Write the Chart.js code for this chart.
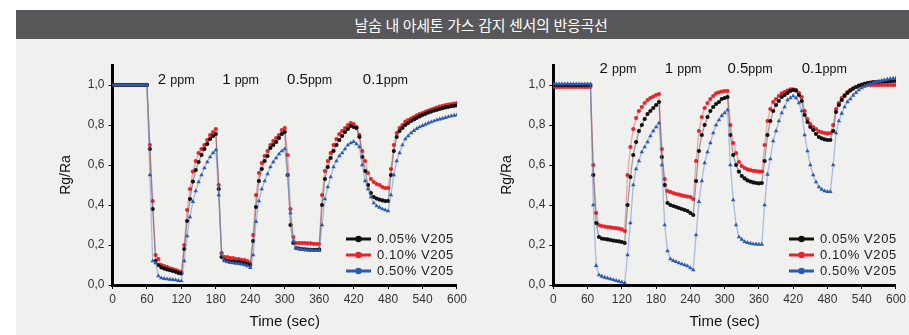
<!doctype html>
<html lang="ko">
<head>
<meta charset="utf-8">
<title>날숨 내 아세톤 가스 감지 센서의 반응곡선</title>
<script src="https://cdn.jsdelivr.net/npm/chart.js"></script>
<style>
  body { margin: 0; background: #fff; width: 909px; height: 335px; overflow: hidden; position: relative; }
  #title {
    position: absolute; left: 16px; top: 10px; width: 893px; height: 29px;
    box-sizing: border-box; padding-left: 37px;
    background: #58585a; color: #fff; text-align: center;
    font: 15px "Noto Sans CJK KR", sans-serif; line-height: 29px; letter-spacing: -0.3px;
  }
  #panel { position: absolute; left: 16px; top: 39px; width: 893px; height: 296px; background: #f0f0ee; }
  canvas { position: absolute; top: 40px; }
  #leftChart { left: 16px; }
  #rightChart { left: 470px; }
</style>
</head>
<body>
<div id="title">날숨 내 아세톤 가스 감지 센서의 반응곡선</div>
<div id="panel"></div>
<canvas id="leftChart" width="454" height="295"></canvas>
<canvas id="rightChart" width="439" height="295"></canvas>

<script>
// time base, sec (every 5 s, 0..600)
const times = Array.from({ length: 121 }, (_, i) => i * 5);
const seriesNames = ['0.05% V205', '0.10% V205', '0.50% V205'];
const ppmNumbers = ['2 ', '1 ', '0.5', '0.1'];
const xTicks = [0, 60, 120, 180, 240, 300, 360, 420, 480, 540, 600];

// left panel
const leftBlack = [
  1.0, 1.0, 1.0, 1.0, 1.0, 1.0, 1.0, 1.0, 1.0, 1.0, 1.0, 1.0,
  1.0, 0.68, 0.38, 0.12, 0.10, 0.088, 0.082, 0.078, 0.074, 0.07, 0.066, 0.06,
  0.057, 0.18, 0.32, 0.43, 0.517, 0.575, 0.615, 0.65, 0.68, 0.705, 0.73, 0.745,
  0.755, 0.48, 0.14, 0.125, 0.12, 0.118, 0.117, 0.115, 0.114, 0.112, 0.11, 0.105,
  0.10, 0.22, 0.39, 0.52, 0.58, 0.62, 0.645, 0.685, 0.70, 0.715, 0.735, 0.755,
  0.765, 0.55, 0.30, 0.21, 0.185, 0.182, 0.18, 0.178, 0.177, 0.176, 0.176, 0.176,
  0.178, 0.40, 0.53, 0.59, 0.635, 0.67, 0.70, 0.725, 0.745, 0.765, 0.78, 0.795,
  0.79, 0.785, 0.74, 0.64, 0.57, 0.50, 0.46, 0.44, 0.432, 0.427, 0.423, 0.42,
  0.42, 0.55, 0.67, 0.74, 0.77, 0.785, 0.80, 0.81, 0.82, 0.828, 0.836, 0.843,
  0.85, 0.856, 0.862, 0.867, 0.872, 0.876, 0.88, 0.884, 0.888, 0.891, 0.894, 0.896,
  0.898
];
const leftRed = [
  1.0, 1.0, 1.0, 1.0, 1.0, 1.0, 1.0, 1.0, 1.0, 1.0, 1.0, 1.0,
  1.0, 0.70, 0.42, 0.15, 0.13, 0.10, 0.095, 0.09, 0.083, 0.08, 0.075, 0.07,
  0.065, 0.20, 0.375, 0.48, 0.567, 0.62, 0.66, 0.68, 0.70, 0.725, 0.75, 0.765,
  0.78, 0.50, 0.16, 0.14, 0.14, 0.135, 0.135, 0.13, 0.13, 0.125, 0.125, 0.12,
  0.11, 0.25, 0.45, 0.56, 0.61, 0.645, 0.67, 0.70, 0.72, 0.735, 0.75, 0.775,
  0.785, 0.65, 0.38, 0.24, 0.21, 0.21, 0.21, 0.21, 0.208, 0.208, 0.206, 0.205,
  0.205, 0.45, 0.57, 0.62, 0.66, 0.70, 0.73, 0.755, 0.77, 0.785, 0.80, 0.81,
  0.805, 0.79, 0.75, 0.67, 0.62, 0.56, 0.53, 0.515, 0.505, 0.50, 0.49, 0.485,
  0.485, 0.58, 0.70, 0.76, 0.785, 0.80, 0.817, 0.825, 0.832, 0.84, 0.848, 0.855,
  0.86, 0.866, 0.872, 0.877, 0.882, 0.887, 0.892, 0.896, 0.899, 0.902, 0.905, 0.907,
  0.909
];
const leftBlue = [
  1.0, 1.0, 1.0, 1.0, 1.0, 1.0, 1.0, 1.0, 1.0, 1.0, 1.0, 1.0,
  1.0, 0.55, 0.12, 0.11, 0.045, 0.035, 0.032, 0.03, 0.028, 0.027, 0.025, 0.022,
  0.02, 0.12, 0.245, 0.34, 0.417, 0.47, 0.515, 0.55, 0.585, 0.615, 0.64, 0.66,
  0.675, 0.45, 0.16, 0.12, 0.115, 0.112, 0.11, 0.108, 0.106, 0.104, 0.10, 0.095,
  0.087, 0.15, 0.317, 0.42, 0.48, 0.52, 0.555, 0.59, 0.615, 0.635, 0.655, 0.67,
  0.68, 0.55, 0.36, 0.22, 0.185, 0.18, 0.178, 0.176, 0.175, 0.174, 0.173, 0.172,
  0.172, 0.30, 0.43, 0.49, 0.54, 0.59, 0.62, 0.645, 0.66, 0.68, 0.70, 0.71,
  0.717, 0.705, 0.69, 0.60, 0.52, 0.48, 0.44, 0.41, 0.395, 0.388, 0.38, 0.375,
  0.37, 0.45, 0.55, 0.62, 0.66, 0.70, 0.73, 0.745, 0.76, 0.772, 0.782, 0.79,
  0.797, 0.803, 0.809, 0.815, 0.82, 0.825, 0.829, 0.833, 0.837, 0.841, 0.845, 0.848,
  0.85
];

// right panel
const rightBlack = [
  1.0, 1.0, 1.0, 1.0, 1.0, 1.0, 1.0, 1.0, 1.0, 1.0, 1.0, 1.0,
  1.0, 1.0, 0.55, 0.31, 0.24, 0.232, 0.23, 0.228, 0.225, 0.222, 0.22, 0.218,
  0.215, 0.21, 0.40, 0.54, 0.65, 0.715, 0.77, 0.80, 0.83, 0.855, 0.87, 0.885,
  0.90, 0.915, 0.64, 0.50, 0.41, 0.40, 0.395, 0.39, 0.385, 0.38, 0.375, 0.37,
  0.36, 0.35, 0.52, 0.67, 0.75, 0.80, 0.84, 0.87, 0.89, 0.905, 0.915, 0.93,
  0.935, 0.94, 0.75, 0.65, 0.60, 0.567, 0.545, 0.533, 0.523, 0.517, 0.513, 0.51,
  0.508, 0.51, 0.62, 0.75, 0.82, 0.87, 0.90, 0.92, 0.94, 0.95, 0.96, 0.97,
  0.975, 0.972, 0.95, 0.92, 0.85, 0.815, 0.79, 0.775, 0.755, 0.74, 0.733, 0.728,
  0.725, 0.725, 0.77, 0.865, 0.90, 0.925, 0.945, 0.96, 0.972, 0.982, 0.99, 0.997,
  1.002, 1.006, 1.01, 1.012, 1.014, 1.015, 1.016, 1.017, 1.018, 1.018, 1.019, 1.02,
  1.02
];
const rightRed = [
  0.99, 0.99, 0.99, 0.99, 0.99, 0.99, 0.99, 0.99, 0.99, 0.99, 0.99, 0.99,
  0.99, 0.99, 0.60, 0.36, 0.30, 0.295, 0.292, 0.29, 0.288, 0.286, 0.284, 0.282,
  0.278, 0.27, 0.55, 0.69, 0.78, 0.835, 0.87, 0.89, 0.91, 0.925, 0.935, 0.942,
  0.95, 0.955, 0.68, 0.53, 0.47, 0.465, 0.46, 0.455, 0.452, 0.448, 0.445, 0.442,
  0.44, 0.43, 0.62, 0.77, 0.84, 0.885, 0.91, 0.93, 0.945, 0.958, 0.963, 0.967,
  0.97, 0.97, 0.80, 0.71, 0.66, 0.615, 0.595, 0.585, 0.578, 0.574, 0.571, 0.569,
  0.567, 0.567, 0.70, 0.82, 0.88, 0.915, 0.93, 0.945, 0.958, 0.965, 0.972, 0.978,
  0.978, 0.975, 0.96, 0.94, 0.87, 0.83, 0.805, 0.79, 0.78, 0.768, 0.763, 0.76,
  0.758, 0.76, 0.80, 0.88, 0.91, 0.935, 0.95, 0.965, 0.975, 0.983, 0.99, 0.995,
  0.998, 1.0, 1.0, 1.0, 1.0, 1.0, 1.0, 1.0, 1.0, 1.0, 1.0, 1.0,
  1.0
];
const rightBlue = [
  1.005, 1.005, 1.005, 1.005, 1.005, 1.005, 1.005, 1.005, 1.005, 1.005, 1.005, 1.005,
  1.005, 1.005, 0.40, 0.097, 0.05, 0.043, 0.038, 0.034, 0.03, 0.026, 0.022, 0.018,
  0.014, 0.01, 0.15, 0.31, 0.50, 0.58, 0.62, 0.665, 0.69, 0.715, 0.745, 0.77,
  0.79, 0.81, 0.60, 0.30, 0.17, 0.13, 0.122, 0.116, 0.11, 0.105, 0.10, 0.095,
  0.085, 0.075, 0.25, 0.417, 0.52, 0.61, 0.665, 0.71, 0.76, 0.80, 0.825, 0.847,
  0.86, 0.875, 0.60, 0.425, 0.30, 0.24, 0.228, 0.217, 0.212, 0.208, 0.205, 0.204,
  0.203, 0.203, 0.40, 0.553, 0.63, 0.72, 0.77, 0.82, 0.86, 0.89, 0.925, 0.935,
  0.945, 0.935, 0.91, 0.87, 0.75, 0.67, 0.60, 0.55, 0.515, 0.49, 0.478, 0.47,
  0.467, 0.467, 0.60, 0.76, 0.82, 0.858, 0.89, 0.915, 0.93, 0.948, 0.962, 0.975,
  0.985, 0.993, 1.0, 1.005, 1.01, 1.014, 1.018, 1.022, 1.025, 1.028, 1.031, 1.033,
  1.035
];

const colors = [
  { point: '#111111', line: 'rgba(70,70,70,0.5)' },
  { point: '#e8232c', line: 'rgba(226,90,100,0.5)' },
  { point: '#2b5cb2', line: 'rgba(110,140,210,0.55)' }
];
const pointStyles = ['circle', 'circle', 'triangle'];
const drawOrder = [1, 2, 0];

function makeDatasets(seriesList) {
  return seriesList.map((vals, i) => ({
    label: seriesNames[i],
    data: times.map((t, k) => ({ x: t, y: vals[k] })),
    borderColor: colors[i].line,
    borderWidth: 1.3,
    pointBackgroundColor: colors[i].point,
    pointBorderColor: colors[i].point,
    pointBorderWidth: 0,
    pointRadius: i === 2 ? 2.6 : 2.1,
    pointStyle: pointStyles[i],
    order: drawOrder[i],
    tension: 0
  }));
}

// legend: short line with a dot, bottom right inside the plot
const legendLines = {
  id: 'legendLines',
  afterDraw(chart, args, opts) {
    const ctx = chart.ctx;
    const area = chart.chartArea;
    ctx.save();
    ctx.font = '13px "Liberation Sans", sans-serif';
    ctx.letterSpacing = '0.6px';
    ctx.textBaseline = 'middle';
    chart.data.datasets.forEach((ds, i) => {
      const y = area.bottom - 46 + i * 16;
      const x0 = area.right - opts.offset;
      ctx.strokeStyle = ds.pointBackgroundColor;
      ctx.lineWidth = 3;
      ctx.beginPath();
      ctx.moveTo(x0, y);
      ctx.lineTo(x0 + 25, y);
      ctx.stroke();
      ctx.fillStyle = ds.pointBackgroundColor;
      ctx.beginPath();
      ctx.arc(x0 + 12.5, y, 3.2, 0, Math.PI * 2);
      ctx.fill();
      ctx.fillStyle = '#222';
      ctx.fillText(ds.label, x0 + 31, y + 0.5);
    });
    ctx.restore();
  }
};

// concentration labels above each pulse
const ppmLabels = {
  id: 'ppmLabels',
  afterDraw(chart, args, opts) {
    const ctx = chart.ctx;
    const xs = chart.scales.x, ys = chart.scales.y;
    ctx.save();
    ctx.fillStyle = '#111';
    ctx.textBaseline = 'alphabetic';
    const yPix = ys.getPixelForValue(opts.level);
    ppmNumbers.forEach((num, i) => {
      let x = xs.getPixelForValue(opts.at[i]);
      ctx.font = '15px "Liberation Sans", sans-serif';
      ctx.fillText(num, x, yPix);
      x += ctx.measureText(num).width;
      ctx.font = '12.5px "Liberation Sans", sans-serif';
      ctx.fillText('ppm', x, yPix);
    });
    ctx.restore();
  }
};

function makeChart(id, seriesList, cfg) {
  return new Chart(document.getElementById(id), {
    type: 'line',
    data: { datasets: makeDatasets(seriesList) },
    options: {
      responsive: false,
      animation: false,
      layout: { padding: { top: 25, right: cfg.padRight, left: cfg.padLeft, bottom: 0 } },
      plugins: {
        legend: { display: false },
        tooltip: { enabled: false },
        legendLines: { offset: cfg.legendOffset },
        ppmLabels: { at: cfg.ppmAt, level: cfg.ppmLevel }
      },
      scales: {
        x: {
          type: 'linear',
          min: 0,
          max: 600,
          afterFit(scale) { scale.height = 50; },
          afterBuildTicks(scale) { scale.ticks = xTicks.map(v => ({ value: v })); },
          border: { display: true, color: '#000', width: 3 },
          grid: { drawOnChartArea: false, drawTicks: true, tickLength: 4, color: '#000' },
          ticks: { color: '#333', padding: 3, font: { family: 'Liberation Sans', size: 12 }, maxRotation: 0 },
          title: {
            display: true, text: 'Time (sec)', color: '#111',
            font: { family: 'Liberation Sans', size: 15 }, padding: { top: 4, bottom: 4 }
          }
        },
        y: {
          min: 0,
          max: 1.1,
          afterFit(scale) { scale.width = cfg.yWidth; },
          border: { display: true, color: '#000', width: 3 },
          grid: { drawOnChartArea: false, drawTicks: true, tickLength: 4, color: '#000' },
          ticks: {
            stepSize: 0.2,
            includeBounds: false,
            color: '#333',
            padding: 4,
            font: { family: 'Liberation Sans', size: 12 },
            callback: v => v.toFixed(1).replace('.', ',')
          },
          title: {
            display: true, text: 'Rg/Ra', color: '#111',
            font: { family: 'Liberation Sans', size: 14 }, padding: { top: 4, bottom: 4 }
          }
        }
      }
    },
    plugins: [legendLines, ppmLabels]
  });
}

makeChart('leftChart', [leftBlack, leftRed, leftBlue], {
  padLeft: 38, padRight: 11, yWidth: 58.5,
  legendOffset: 111, ppmAt: [79, 191, 304, 436], ppmLevel: 1.005
});
makeChart('rightChart', [rightBlack, rightRed, rightBlue], {
  padLeft: 24.6, padRight: 9, yWidth: 58.7,
  legendOffset: 107, ppmAt: [81, 195, 305, 435], ppmLevel: 1.06
});
</script>
</body>
</html>
